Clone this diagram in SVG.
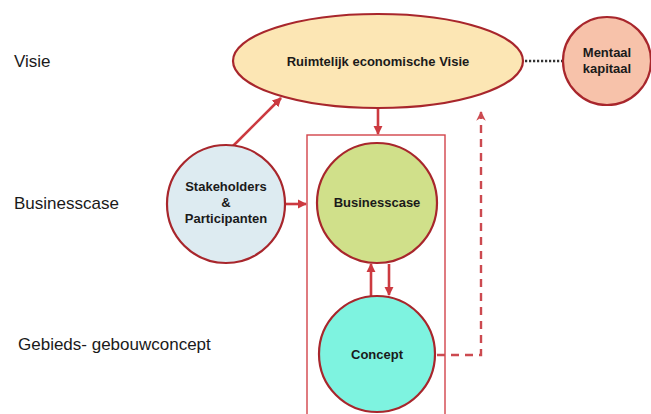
<svg xmlns="http://www.w3.org/2000/svg" width="651" height="414" viewBox="0 0 651 414">
<style>
.lbl{font-family:"Liberation Sans",Arial,sans-serif;font-size:17px;fill:#1a1a1a}
.nt{font-family:"Liberation Sans",Arial,sans-serif;font-size:13px;font-weight:bold;fill:#1a1a1a;text-anchor:middle}
.node{stroke:#A8262C;stroke-width:2.2}
.con{stroke:#CC3A40;stroke-width:2.6;fill:none}
.dash{stroke:#CC4A50;stroke-width:2.4;fill:none;stroke-dasharray:8 6}
</style>
<defs>
<marker id="ah" viewBox="0 0 10 10" refX="9" refY="5" markerWidth="3.6" markerHeight="3.6" orient="auto" markerUnits="strokeWidth">
<path d="M0,0 L10,5 L0,10 z" fill="#CC3A40"/>
</marker>
<marker id="ahd" viewBox="0 0 10 10" refX="9" refY="5" markerWidth="4" markerHeight="4" orient="auto" markerUnits="strokeWidth">
<path d="M0,0 L10,5 L0,10 L3,5 z" fill="#CC4A50"/>
</marker>
</defs>
<rect width="651" height="414" fill="#ffffff"/>
<text class="lbl" x="14" y="67">Visie</text>
<text class="lbl" x="14" y="209">Businesscase</text>
<text class="lbl" x="18" y="350">Gebieds- gebouwconcept</text>
<rect id="frame" x="307" y="135" width="138" height="290" fill="none" stroke="#D2444A" stroke-width="1.4"/>
<g id="connectors">
<line class="con" x1="378" y1="109" x2="378" y2="134" marker-end="url(#ah)"/>
<line class="con" x1="233" y1="146" x2="281" y2="98" marker-end="url(#ah)"/>
<line class="con" x1="285" y1="204" x2="306" y2="204" marker-end="url(#ah)"/>
<line class="con" x1="371" y1="296" x2="371" y2="264" marker-end="url(#ah)"/>
<line class="con" x1="389" y1="264" x2="389" y2="295" marker-end="url(#ah)"/>
<polyline class="dash" points="437,355 481,355 481,112" marker-end="url(#ahd)"/>
<line x1="525" y1="61" x2="562" y2="61" stroke="#333" stroke-width="2.4" stroke-dasharray="2.2 1.8"/>
</g>
<g id="visie">
<ellipse class="node" cx="378" cy="61" rx="145" ry="47" fill="#FCE6B4"/>
<text class="nt" x="378" y="66">Ruimtelijk economische Visie</text>
</g>
<g id="mentaal">
<circle class="node" cx="607" cy="61" r="44" fill="#F7C2AA"/>
<text class="nt" x="607" y="57">Mentaal</text>
<text class="nt" x="607" y="73">kapitaal</text>
</g>
<g id="stakeholders">
<circle class="node" cx="226" cy="204" r="59" fill="#DDEBF1"/>
<text class="nt" x="226" y="191">Stakeholders</text>
<text class="nt" x="226" y="207">&amp;</text>
<text class="nt" x="226" y="223">Participanten</text>
</g>
<g id="businesscase">
<circle class="node" cx="377" cy="203" r="60" fill="#D0E08A"/>
<text class="nt" x="377" y="207">Businesscase</text>
</g>
<g id="concept">
<circle class="node" cx="377" cy="354" r="58" fill="#7EF3E0"/>
<text class="nt" x="377" y="359">Concept</text>
</g>
</svg>
